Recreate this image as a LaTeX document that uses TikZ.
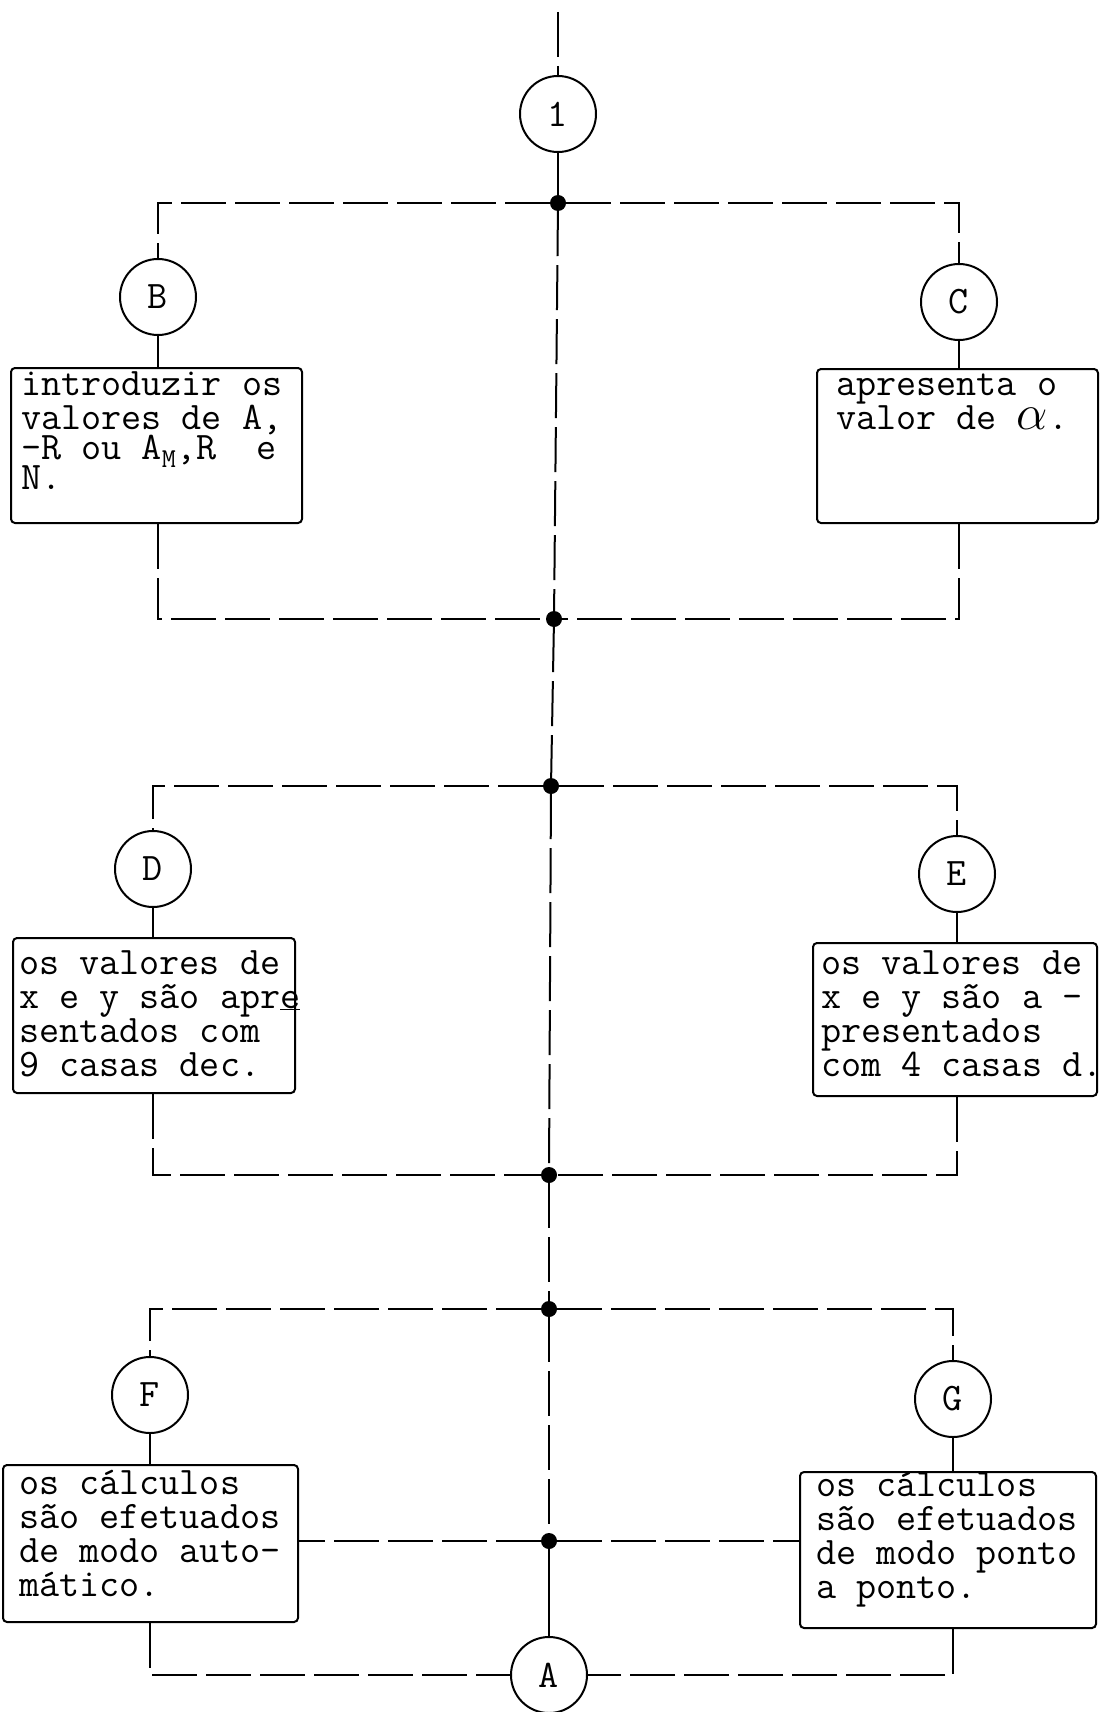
\documentclass[tikz,border=0pt]{standalone}
\usepackage{fontspec}
\usetikzlibrary{positioning,calc}

\begin{document}
\begin{tikzpicture}[
    x=1pt, y=-1pt,
    conn/.style={circle, draw, line width=2pt, minimum size=76pt, inner sep=0pt, font=\ttfamily\fontsize{39}{34}\selectfont},
    box/.style={rectangle, draw, line width=2pt, rounded corners=4pt},
    txt/.style={anchor=north west, inner sep=0pt, align=left, font=\ttfamily\fontsize{39}{34}\selectfont},
    dot/.style={circle, fill=black, minimum size=16pt, inner sep=0pt},
    link/.style={line width=2pt},
    dashlink/.style={line width=2pt, dash pattern=on 45pt off 9pt}
  ]
    \useasboundingbox (0,0) rectangle (1105,1712);

    % spine
    \coordinate (top) at (558,12);
    \node[conn] (c1) at (558,114) {1};
    \node[dot] (j1) at (558,203) {};
    \node[dot] (j2) at (554,619) {};
    \node[dot] (j3) at (551,786) {};
    \node[dot] (j4) at (549,1175) {};
    \node[dot] (j5) at (549,1309) {};
    \node[dot] (j6) at (549,1541) {};
    \node[conn] (cA) at (549,1675) {A};

    % first pair
    \node[conn] (cB) at (158,297) {B};
    \node[conn] (cC) at (959,302) {C};
    \node[box, minimum width=291pt, minimum height=155pt] (boxB) at (156.5,445.5) {};
    \node[box, minimum width=281pt, minimum height=154pt] (boxC) at (957.5,446) {};
    \node[txt] (tB) at ($(boxB.north west)+(11,4)$) {introduzir os\\valores de A,\\[-4pt]-R ou A\textsubscript{M},R~~e\\[-4pt]N.};
    \node[txt] (tC) at ($(boxC.north west)+(20,6)$) {apresenta o\\valor de \scalebox{2}{$\alpha$}.};

    % second pair
    \node[conn] (cD) at (153,869) {D};
    \node[conn] (cE) at (957,874) {E};
    \node[box, minimum width=282pt, minimum height=155pt] (boxD) at (154,1015.5) {};
    \node[box, minimum width=284pt, minimum height=153pt] (boxE) at (955,1019.5) {};
    \node[txt] (tD) at ($(boxD.north west)+(7,13)$) {os valores de\\x e y são apr\underline{e}\\sentados com\\9 casas dec.};
    \node[txt] (tE) at ($(boxE.north west)+(9,8)$) {os valores de\\x e y são a~-\\presentados\\com 4 casas d.};

    % third pair
    \node[conn] (cF) at (150,1395) {F};
    \node[conn] (cG) at (953,1399) {G};
    \node[box, minimum width=295pt, minimum height=157pt] (boxF) at (150.5,1543.5) {};
    \node[box, minimum width=296pt, minimum height=156pt] (boxG) at (948,1550) {};
    \node[txt] (tF) at ($(boxF.north west)+(17,6)$) {os cálculos\\são efetuados\\de modo auto-\\mático.};
    \node[txt] (tG) at ($(boxG.north west)+(17,1)$) {os cálculos\\são efetuados\\de modo ponto\\a ponto.};

    % spine lines
    \draw[dashlink] (top) -- (c1);
    \draw[link] (c1) -- (j1);
    \draw[dashlink] (j1) -- (j2);
    \draw[dashlink] (j2) -- (j3);
    \draw[dashlink] (j3) -- (j4);
    \draw[dashlink] (j4) -- (j5);
    \draw[dashlink] (j5) -- (j6);
    \draw[link] (j6) -- (cA);

    % branches
    \draw[dashlink] (j1) -| (cB);
    \draw[dashlink] (j1) -| (cC);
    \draw[link] (cB) -- (cB |- boxB.north);
    \draw[link] (cC) -- (cC |- boxC.north);
    \draw[dashlink] (cB |- boxB.south) |- (j2);
    \draw[dashlink] (cC |- boxC.south) |- (j2);

    \draw[dashlink] (j3) -| (cD);
    \draw[dashlink] (j3) -| (cE);
    \draw[link] (cD) -- (cD |- boxD.north);
    \draw[link] (cE) -- (cE |- boxE.north);
    \draw[dashlink] (cD |- boxD.south) |- (j4);
    \draw[dashlink] (cE |- boxE.south) |- (j4);

    \draw[dashlink] (j5) -| (cF);
    \draw[dashlink] (j5) -| (cG);
    \draw[link] (cF) -- (cF |- boxF.north);
    \draw[link] (cG) -- (cG |- boxG.north);
    \draw[dashlink] (j6) -- (j6 -| boxF.east);
    \draw[dashlink] (j6) -- (j6 -| boxG.west);
    \draw[dashlink] (cF |- boxF.south) |- (cA);
    \draw[dashlink] (cG |- boxG.south) |- (cA);
  \end{tikzpicture}
\end{document}
